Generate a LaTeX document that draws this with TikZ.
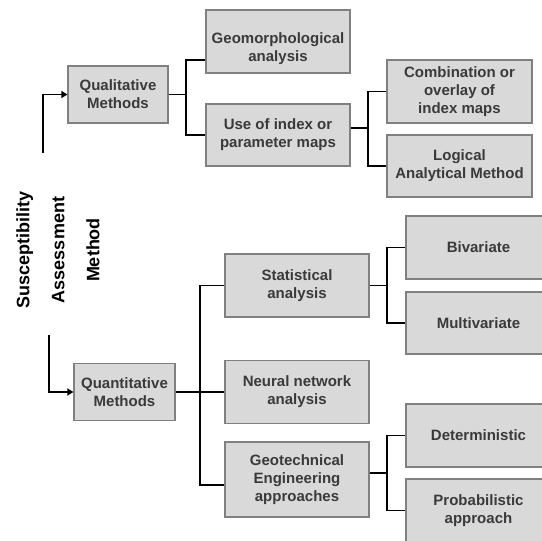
\documentclass[tikz,border=0pt]{standalone}
\usepackage{fontspec}
\setmainfont{Liberation Sans}
\usetikzlibrary{arrows.meta}
\definecolor{boxfill}{HTML}{D9D9D9}
\definecolor{boxline}{HTML}{808080}
\definecolor{boxtext}{HTML}{3A3A3A}
\tikzset{
    box/.style={draw=boxline, fill=boxfill, line width=1.2pt, text=boxtext, align=center, inner sep=0pt,
        minimum width=144pt, minimum height=63pt, font=\bfseries\fontsize{15}{18}\selectfont},
    link/.style={line width=1.6pt},
    arr/.style={line width=1.6pt, -{Triangle[length=6pt,width=7pt]}}
}
\begin{document}
\begin{tikzpicture}[x=1pt, y=-1pt]
        \useasboundingbox (0,0) rectangle (542,541);

        \node[rotate=90, align=center, font=\bfseries\fontsize{18}{35}\selectfont] (title) at (58,250) {Susceptibility\\Assessment\\Method};

        \node[box, minimum width=100pt, minimum height=57pt] (qual) at (118,94.5) {Qualitative\\Methods};
        \node[box] (geo) at (278,41.5) {\raisebox{-7pt}[\height][\depth]{\begin{tabular}{@{}c@{}}Geomorphological\\analysis\end{tabular}}};
        \node[box, minimum height=62pt] (use) at (278,135) {Use of index or\\parameter maps};
        \node[box, minimum width=145pt] (comb) at (459.5,91.5) {Combination or\\overlay of\\index maps};
        \node[box, minimum width=145pt, minimum height=62pt] (logic) at (459.5,166) {Logical\\Analytical Method};

        \node[box, minimum width=101pt, minimum height=57pt] (quant) at (124.5,392) {Quantitative\\Methods};
        \node[box] (stat) at (297,285.5) {Statistical\\analysis};
        \node[box] (neural) at (297,392) {Neural network\\analysis};
        \node[box, minimum height=75pt] (geot) at (297,479.5) {Geotechnical\\Engineering\\approaches};
        \node[box, minimum width=145pt] (biv) at (478.5,247.5) {Bivariate};
        \node[box, minimum width=145pt, minimum height=62pt] (multi) at (478.5,323) {Multivariate};
        \node[box, minimum width=145pt] (det) at (478.5,435.5) {Deterministic};
        \node[box, minimum width=145pt] (prob) at (478.5,510.5) {Probabilistic\\approach};

        % arrows from the title
        \coordinate (qualstart) at (43,153);
        \coordinate (quantstart) at (49,335);
        \draw[arr] (qualstart) |- (qual.west);
        \draw[arr] (quantstart) |- (quant.west);

        % forks
        \coordinate (qualfork) at (186,94.5);
        \coordinate (usefork) at (368,128);
        \coordinate (quantfork) at (200,392);
        \coordinate (statfork) at (387,285.5);
        \coordinate (geotfork) at (387,473);

        \draw[link] (qual.east) -- (qualfork);
        \draw[link] ([yshift=-18.5pt]geo.west) -| (qualfork) |- (use.west);
        \draw[link] ([yshift=7pt]use.east) -- (usefork);
        \draw[link] (comb.west) -| (usefork) |- (logic.west);

        \draw[link] (quant.east) -- (neural.west);
        \draw[link] (stat.west) -| (quantfork) |- ([yshift=-5.5pt]geot.west);
        \draw[link] (stat.east) -- (statfork);
        \draw[link] (biv.west) -| (statfork) |- (multi.west);
        \draw[link] ([yshift=6.5pt]geot.east) -- (geotfork);
        \draw[link] (det.west) -| (geotfork) |- (prob.west);

\end{tikzpicture}
\end{document}
